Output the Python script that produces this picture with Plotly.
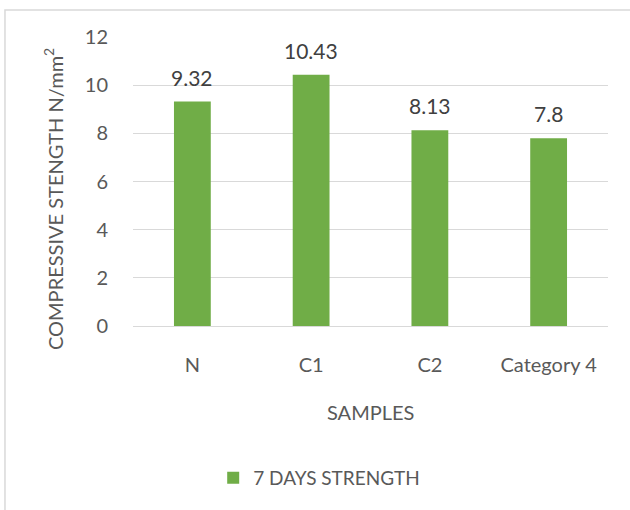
import plotly.graph_objects as go

categories = ["N", "C1", "C2", "Category 4"]
strength_7_days = [9.32, 10.43, 8.13, 7.8]
y_ticks = [0, 2, 4, 6, 8, 10, 12]

GREEN = "#70ad47"
TEXT = "#595959"
LABEL = "#404040"
GRID = "#d9d9d9"
FONT = "Lato"
SIZE = 20

fig = go.Figure()
fig.add_trace(go.Bar(
    x=categories,
    y=strength_7_days,
    name="7 DAYS STRENGTH",
    marker=dict(color=GREEN, line=dict(width=0)),
    width=0.31,
))

# value labels above each bar
for cat, val in zip(categories, strength_7_days):
    fig.add_annotation(
        x=cat, y=val, text=f"{val:g}", showarrow=False,
        yanchor="bottom", yshift=10,
        font=dict(family=FONT, size=21, color=LABEL),
    )

# axis titles
fig.add_annotation(
    xref="paper", yref="paper", x=-0.168, y=0.44,
    xanchor="center", yanchor="middle", textangle=-90, showarrow=False,
    text="COMPRESSIVE STENGTH N/mm<sup>2</sup>",
    font=dict(family=FONT, size=SIZE, color=TEXT),
)
fig.add_annotation(
    xref="paper", yref="paper", x=0.5, y=-0.298,
    xanchor="center", yanchor="middle", showarrow=False,
    text="SAMPLES",
    font=dict(family=FONT, size=SIZE, color=TEXT),
)

# outer chart frame
fig.add_shape(
    type="rect", xref="paper", yref="paper",
    x0=-0.2695, x1=1.2, y0=-0.8, y1=1.0934,
    line=dict(color=GRID, width=1.5), fillcolor="rgba(0,0,0,0)",
    layer="below",
)

fig.update_layout(
    width=630, height=510,
    margin=dict(l=133, r=22, t=37, b=184),
    paper_bgcolor="white", plot_bgcolor="white",
    font=dict(family=FONT, size=SIZE, color=TEXT),
    bargap=0.69,
    showlegend=True,
    legend=dict(
        orientation="h", x=0.392, xanchor="center",
        y=-0.526, yanchor="middle",
        font=dict(family=FONT, size=19, color=TEXT),
    ),
    xaxis=dict(
        showgrid=False, showline=False, zeroline=False,
        ticks="", ticklabelstandoff=25,
        tickfont=dict(family=FONT, size=SIZE, color=TEXT),
    ),
    yaxis=dict(
        range=[0, 12], tickvals=y_ticks,
        showgrid=True, gridcolor=GRID, gridwidth=1,
        zeroline=True, zerolinecolor=GRID, zerolinewidth=1,
        showline=False, ticks="", ticklabelstandoff=24,
        tickfont=dict(family=FONT, size=SIZE, color=TEXT),
    ),
)

fig.write_html("out.html")
